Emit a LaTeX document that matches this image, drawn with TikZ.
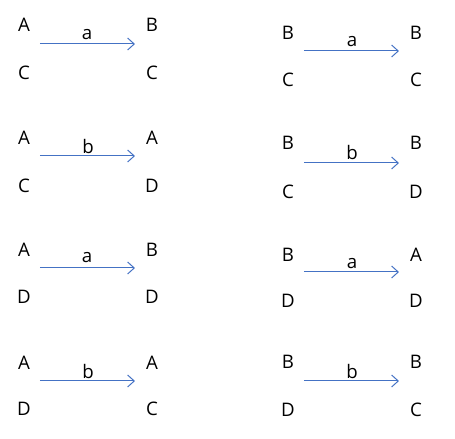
\documentclass[tikz,border=0pt]{standalone}
\usepackage{fontspec}
\setmainfont{Open Sans}
\usetikzlibrary{arrows.meta}
\definecolor{arrowblue}{RGB}{68,114,196}
\begin{document}
\begin{tikzpicture}[x=0.75pt,y=0.75pt,yscale=-1,xscale=1,
  letter/.style={inner sep=0.75pt,font=\fontsize{14}{17}\selectfont},
  lbl/.style={inner sep=0.75pt,font=\fontsize{14}{17}\selectfont},
  trans/.style={draw=arrowblue,line width=0.75pt,-{Straight Barb[length=5pt,width=9pt]}}]
\useasboundingbox (0,0) rectangle (455,439);

% Left column, block 1
\node[letter] (l1a) at (24,25) {A};
\node[letter] (l1c) at (24,73) {C};
\node[letter] (l1b) at (152,25) {B};
\node[letter] (l1d) at (152,73) {C};
\coordinate (l1s) at (40,44);
\coordinate (l1e) at (135,44);
\draw[trans] (l1s) -- (l1e);
\node[lbl] (l1l) at (87,35) {a};

% Left column, block 2
\node[letter] (l2a) at (24,138) {A};
\node[letter] (l2c) at (24,186) {C};
\node[letter] (l2b) at (152,138) {A};
\node[letter] (l2d) at (152,186) {D};
\coordinate (l2s) at (40,156);
\coordinate (l2e) at (135,156);
\draw[trans] (l2s) -- (l2e);
\node[lbl] (l2l) at (88,146) {b};

% Left column, block 3
\node[letter] (l3a) at (24,250) {A};
\node[letter] (l3c) at (24,297) {D};
\node[letter] (l3b) at (152,250) {B};
\node[letter] (l3d) at (152,297) {D};
\coordinate (l3s) at (40,268);
\coordinate (l3e) at (135,268);
\draw[trans] (l3s) -- (l3e);
\node[lbl] (l3l) at (87,258) {a};

% Left column, block 4
\node[letter] (l4a) at (24,363) {A};
\node[letter] (l4c) at (24,409) {D};
\node[letter] (l4b) at (152,363) {A};
\node[letter] (l4d) at (152,409) {C};
\coordinate (l4s) at (40,381);
\coordinate (l4e) at (135,381);
\draw[trans] (l4s) -- (l4e);
\node[lbl] (l4l) at (88,372) {b};

% Right column, block 1
\node[letter] (r1a) at (288,33) {B};
\node[letter] (r1c) at (288,80) {C};
\node[letter] (r1b) at (416,33) {B};
\node[letter] (r1d) at (416,80) {C};
\coordinate (r1s) at (304,51);
\coordinate (r1e) at (399,51);
\draw[trans] (r1s) -- (r1e);
\node[lbl] (r1l) at (352,42) {a};

% Right column, block 2
\node[letter] (r2a) at (288,143) {B};
\node[letter] (r2c) at (288,192) {C};
\node[letter] (r2b) at (416,143) {B};
\node[letter] (r2d) at (416,192) {D};
\coordinate (r2s) at (304,163);
\coordinate (r2e) at (399,163);
\draw[trans] (r2s) -- (r2e);
\node[lbl] (r2l) at (352,153) {b};

% Right column, block 3
\node[letter] (r3a) at (288,255) {B};
\node[letter] (r3c) at (288,301) {D};
\node[letter] (r3b) at (416,255) {A};
\node[letter] (r3d) at (416,301) {D};
\coordinate (r3s) at (304,272);
\coordinate (r3e) at (399,272);
\draw[trans] (r3s) -- (r3e);
\node[lbl] (r3l) at (352,264) {a};

% Right column, block 4
\node[letter] (r4a) at (288,362) {B};
\node[letter] (r4c) at (288,410) {D};
\node[letter] (r4b) at (416,362) {B};
\node[letter] (r4d) at (416,410) {C};
\coordinate (r4s) at (304,381);
\coordinate (r4e) at (399,381);
\draw[trans] (r4s) -- (r4e);
\node[lbl] (r4l) at (352,372) {b};

\end{tikzpicture}
\end{document}
